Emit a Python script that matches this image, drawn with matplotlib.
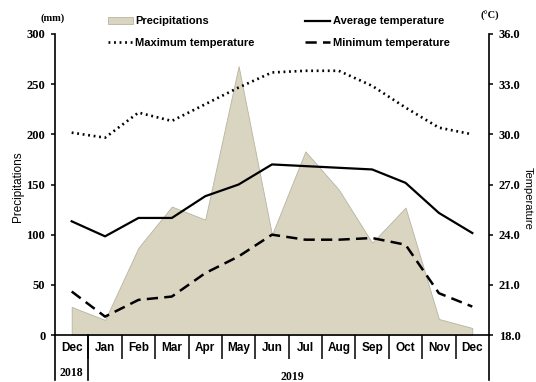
import matplotlib
matplotlib.use('Agg')
import matplotlib.pyplot as plt
from matplotlib.lines import Line2D
from matplotlib.patches import Patch

# monthly data, Dec 2018 .. Dec 2019
months = ['Dec', 'Jan', 'Feb', 'Mar', 'Apr', 'May', 'Jun',
          'Jul', 'Aug', 'Sep', 'Oct', 'Nov', 'Dec']
precip = [28, 15, 87, 128, 115, 268, 100, 183, 145, 92, 127, 16, 7]
t_avg = [24.8, 23.9, 25.0, 25.0, 26.3, 27.0, 28.2, 28.1, 28.0, 27.9, 27.1, 25.3, 24.1]
t_max = [30.1, 29.8, 31.3, 30.8, 31.8, 32.8, 33.7, 33.8, 33.8, 32.9, 31.6, 30.4, 30.0]
t_min = [20.6, 19.1, 20.1, 20.3, 21.7, 22.7, 24.0, 23.7, 23.7, 23.8, 23.4, 20.5, 19.7]
precip_ticks = [0, 50, 100, 150, 200, 250, 300]
temp_ticks = [18, 21, 24, 27, 30, 33, 36]

serif = 'Liberation Serif'
sans = 'Liberation Sans'

fig = plt.figure(figsize=(5.36, 3.82), dpi=100)
ax = fig.add_axes([0.1026, 0.123, 0.8097, 0.788])
x = list(range(len(months)))

ax.fill_between(x, precip, 0, facecolor='#d9d5c1', edgecolor='#b8b4a3', lw=0.6)
ax.set_xlim(-0.5, len(months) - 0.5)
ax.set_ylim(0, 300)
ax.set_yticks(precip_ticks)
ax.set_yticklabels([str(v) for v in precip_ticks], fontfamily=serif,
                   fontweight='bold', fontsize=9)
ax.set_xticks(x)
ax.set_xticklabels(months, fontfamily=sans, fontweight='bold', fontsize=8.5)
ax.tick_params(axis='x', which='major', length=0, pad=5)
ax.set_xticks([i + 0.5 for i in range(len(months) - 1)], minor=True)
ax.tick_params(axis='x', which='minor', length=17, width=1.1, direction='out')
ax.tick_params(axis='y', length=3, width=1.1, direction='out', pad=4)
for s in ['top', 'right']:
    ax.spines[s].set_visible(False)
for s in ['left', 'bottom']:
    ax.spines[s].set_linewidth(1.2)

ax2 = ax.twinx()
ax2.plot(x, t_avg, color='black', lw=1.6)
ax2.plot(x, t_max, color='black', lw=1.9, linestyle=(0, (0.7, 1.4)))
ax2.plot(x, t_min, color='black', lw=1.8, linestyle=(0, (4.5, 2.5)))
ax2.set_ylim(18, 36)
ax2.set_yticks(temp_ticks)
ax2.set_yticklabels(['%.1f' % v for v in temp_ticks], fontfamily=serif,
                    fontweight='bold', fontsize=9)
ax2.tick_params(axis='y', length=3, width=1.1, direction='out', pad=4)
for s in ['top', 'left', 'bottom']:
    ax2.spines[s].set_visible(False)
ax2.spines['right'].set_linewidth(1.2)

# axis lines running down through the label rows
for xv, y0 in [(-0.5, -0.15), (0.5, -0.15), (12.5, -0.15)]:
    ax.plot([xv, xv], [0, y0], transform=ax.get_xaxis_transform(),
            color='black', lw=1.2, clip_on=False)

ax.text(0, -0.125, '2018', transform=ax.get_xaxis_transform(), ha='center',
        va='center', fontfamily=serif, fontweight='bold', fontsize=8.5)
ax.text(6.6, -0.138, '2019', transform=ax.get_xaxis_transform(), ha='center',
        va='center', fontfamily=serif, fontweight='bold', fontsize=8.5)
fig.text(0.099, 0.953, '(mm)', ha='center', va='center', fontfamily=serif,
         fontweight='bold', fontsize=7.5)
fig.text(0.914, 0.958, '(°C)', ha='center', va='center', fontfamily=serif,
         fontweight='bold', fontsize=7.5)
fig.text(0.034, 0.51, 'Precipitations', rotation=90, ha='center', va='center',
         fontfamily=sans, fontsize=8.5)
fig.text(0.984, 0.48, 'Temperature', rotation=270, ha='center', va='center',
         fontfamily=sans, fontsize=8)

leg_font = {'family': sans, 'weight': 'bold', 'size': 8}
h1 = [Patch(facecolor='#d9d5c1', edgecolor='#b8b4a3', lw=0.6),
      Line2D([], [], color='black', lw=1.9, linestyle=(0, (0.7, 1.4)))]
h2 = [Line2D([], [], color='black', lw=1.6),
      Line2D([], [], color='black', lw=1.8, linestyle=(0, (4.5, 2.5)))]
leg1 = fig.legend(h1, ['Precipitations', 'Maximum temperature'],
                  loc='upper left', bbox_to_anchor=(0.2015, 0.957), frameon=False,
                  prop=leg_font, handlelength=2.25, handletextpad=0.2,
                  labelspacing=1.05, borderaxespad=0, borderpad=0)
leg2 = fig.legend(h2, ['Average temperature', 'Minimum temperature'],
                  loc='upper left', bbox_to_anchor=(0.569, 0.957), frameon=False,
                  prop=leg_font, handlelength=2.25, handletextpad=0.3,
                  labelspacing=1.05, borderaxespad=0, borderpad=0)

fig.savefig('out.png', dpi=100)
